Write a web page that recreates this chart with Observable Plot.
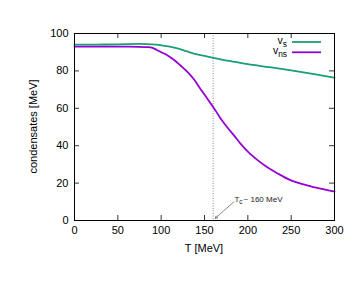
<!DOCTYPE html>
<html><head><meta charset="utf-8">
<script src="https://cdn.jsdelivr.net/npm/d3@7"></script>
<script src="https://cdn.jsdelivr.net/npm/@observablehq/plot@0.6"></script>
<style>
body{margin:0;background:#fff;font-family:"Liberation Sans",Arial,sans-serif;}
</style></head>
<body><div id="wrap"></div>
<script>
const T_s  = [0, 25, 50, 75, 90, 100, 110, 120, 130, 140, 150, 160, 170, 185, 200, 225, 250, 275, 300];
const v_s  = [94.0, 94.1, 94.2, 94.4, 94.2, 93.7, 93.0, 91.9, 90.4, 89.0, 88.0, 87.0, 86.0, 84.8, 83.6, 82.0, 80.3, 78.4, 76.4];
const T_ns = [0, 25, 50, 75, 85, 90, 95, 100, 107, 115, 122, 130, 138, 145, 152, 160, 168, 176, 184, 192, 200, 212, 222, 235, 249, 262, 276, 288, 300];
const v_ns = [93.0, 93.0, 93.0, 92.9, 92.7, 92.3, 91.2, 90.0, 88.4, 85.8, 83.0, 79.6, 75.4, 70.6, 66.0, 60.7, 55.0, 50.0, 45.5, 40.8, 36.8, 32.0, 28.6, 25.0, 21.6, 19.6, 17.9, 16.6, 15.5];
const xTicks = [0, 50, 100, 150, 200, 250, 300];
const yTicks = [0, 20, 40, 60, 80, 100];
const Tc = 160;
const arrowFrom = {T: 184, v: 10};
const arrowTo = {T: 162.5, v: 1.2};
const seriesNames = ["s", "ns"];
const colors = ["#1a9e77", "#9400d3"];

const dS = T_s.map((t, i) => ({T: t, v: v_s[i]}));
const dNS = T_ns.map((t, i) => ({T: t, v: v_ns[i]}));

// inward tick length of 5px, expressed in data units of the 260x187 px frame
const tkx = 5 * 300 / 260, tky = 5 * 100 / 187;

const plot = Plot.plot({
  width: 363, height: 281,
  marginLeft: 74, marginRight: 29, marginTop: 33, marginBottom: 61,
  style: {fontFamily: "Liberation Sans, Arial, sans-serif", fontSize: "11px", color: "#000", background: "#fff"},
  x: {domain: [0, 300]},
  y: {domain: [0, 100]},
  marks: [
    Plot.axisX(xTicks, {anchor: "bottom", tickSize: 0, tickPadding: 6, label: null, fontSize: 11}),
    Plot.axisY(yTicks, {anchor: "left", tickSize: 0, tickPadding: 6, label: null, fontSize: 11}),
    Plot.ruleX(xTicks, {y1: 0, y2: tky, stroke: "#000", strokeWidth: 0.8}),
    Plot.ruleX(xTicks, {y1: 100 - tky, y2: 100, stroke: "#000", strokeWidth: 0.8}),
    Plot.ruleY(yTicks, {x1: 0, x2: tkx, stroke: "#000", strokeWidth: 0.8}),
    Plot.ruleY(yTicks, {x1: 300 - tkx, x2: 300, stroke: "#000", strokeWidth: 0.8}),
    Plot.ruleX([Tc], {stroke: "#888", strokeWidth: 1, strokeDasharray: "1,1.5"}),
    Plot.line(dS, {x: "T", y: "v", stroke: colors[0], strokeWidth: 1.8, curve: "monotone-x"}),
    Plot.line(dNS, {x: "T", y: "v", stroke: colors[1], strokeWidth: 1.8, curve: "monotone-x"}),
    Plot.arrow([arrowFrom], {x1: "T", y1: "v", x2: () => arrowTo.T, y2: () => arrowTo.v, stroke: "#555", strokeWidth: 0.7, headLength: 5, bend: 0}),
    Plot.frame({stroke: "#000", strokeWidth: 1})
  ]
});
document.getElementById("wrap").appendChild(plot);
const sx = plot.scale("x"), sy = plot.scale("y");
const svgNS = "http://www.w3.org/2000/svg";
function txt(x, y, anchor, size, parts, transform) {
  const t = document.createElementNS(svgNS, "text");
  if (transform) t.setAttribute("transform", transform);
  else { t.setAttribute("x", x); t.setAttribute("y", y); }
  t.setAttribute("text-anchor", anchor);
  t.setAttribute("font-size", size);
  t.setAttribute("fill", "#000");
  parts.forEach(([s, sub]) => {
    const ts = document.createElementNS(svgNS, "tspan");
    ts.textContent = s;
    if (sub) { ts.setAttribute("font-size", size * 0.8); ts.setAttribute("dy", size * 0.3); }
    t.appendChild(ts);
  });
  plot.appendChild(t);
  return t;
}

// axis titles
txt((sx.apply(0) + sx.apply(300)) / 2, 252, "middle", 11, [["T [MeV]"]]);
const yc = (sy.apply(0) + sy.apply(100)) / 2;
txt(0, 0, "middle", 11, [["condensates [MeV]"]], `translate(37,${yc}) rotate(-90)`);

// legend
const pRight = sx.apply(300), pTop = sy.apply(100);
seriesNames.forEach((n, i) => {
  const yy = pTop + 9 + i * 10.3;
  const ln = document.createElementNS(svgNS, "line");
  ln.setAttribute("x1", pRight - 42); ln.setAttribute("x2", pRight - 13);
  ln.setAttribute("y1", yy); ln.setAttribute("y2", yy);
  ln.setAttribute("stroke", colors[i]); ln.setAttribute("stroke-width", 1.8);
  plot.appendChild(ln);
  txt(pRight - 47, yy + 1.5, "end", 10.5, [["v"], [n, true]]);
});

// annotation
const an = txt(sx.apply(arrowFrom.T) + 1, sy.apply(arrowFrom.v) + 0.5, "start", 8, [["T"], ["c", true], ["~ 160 MeV"]]);
an.setAttribute("fill", "#222");
an.lastChild.setAttribute("dy", -2.4);
an.lastChild.setAttribute("dx", 1);
</script></body></html>
